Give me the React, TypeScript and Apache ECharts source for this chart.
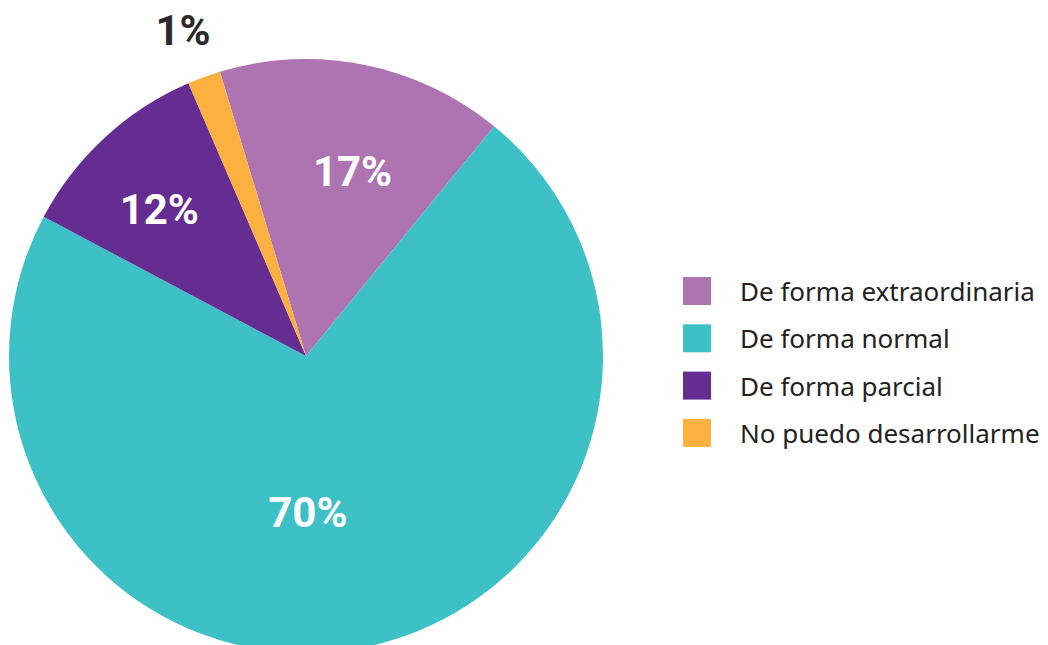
import React, { useEffect, useRef } from "react";
import * as echarts from "echarts";

const categories = [
  "De forma extraordinaria",
  "De forma normal",
  "De forma parcial",
  "No puedo desarrollarme",
];
const values = [15.6, 71.85, 10.75, 1.8];
const shownLabels = ["17%", "70%", "12%", "1%"];
const colors = ["#AD74B1", "#3DC1C6", "#652D91", "#FBB040"];
const labelOffsets: [number, number][] = [
  [17, -36],
  [-28, 7.5],
  [-44, -35],
  [-71, -183.5],
];
const labelColors = ["#ffffff", "#ffffff", "#ffffff", "#2a2a2a"];

export default function App() {
  const ref = useRef<HTMLDivElement>(null);
  useEffect(() => {
    if (!ref.current) return;
    const chart = echarts.init(ref.current, null, { renderer: "svg" });
    chart.setOption({
      animation: false,
      backgroundColor: "#ffffff",
      legend: {
        orient: "vertical",
        left: 678,
        top: 272,
        itemWidth: 28,
        itemHeight: 28,
        itemGap: 19.3,
        icon: "rect",
        data: categories,
        textStyle: {
          fontFamily: "Noto Sans",
          fontSize: 26,
          color: "#222222",
          lineHeight: 18,
          padding: [10, 0, 0, 24],
        },
      },
      series: [
        {
          type: "pie",
          center: [306, 356],
          radius: [0, 297],
          startAngle: 106.85,
          clockwise: true,
          label: {
            show: true,
            position: "inside",
            fontFamily: "Roboto",
            fontWeight: "bold",
            fontSize: 42,
            formatter: (p: any) => shownLabels[p.dataIndex],
          },
          labelLine: { show: false },
          emphasis: { disabled: true },
          data: categories.map((name, i) => ({
            name,
            value: values[i],
            itemStyle: { color: colors[i] },
            label: { offset: labelOffsets[i], color: labelColors[i] },
          })),
        },
      ],
    });
    return () => chart.dispose();
  }, []);
  return (
    <div
      ref={ref}
      style={{ position: "absolute", left: 0, top: 0, width: 1048, height: 645 }}
    />
  );
}
